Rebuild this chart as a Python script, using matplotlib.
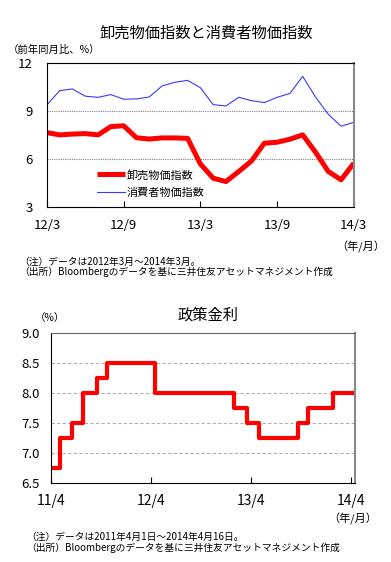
import numpy as np
import pandas as pd
import matplotlib
matplotlib.use('Agg')
import matplotlib.pyplot as plt

plt.rcParams['font.family'] = ['Noto Sans CJK JP', 'DejaVu Sans']

# 卸売物価指数 / 消費者物価指数 (2012/3 - 2014/3, 月次, 前年同月比 %)
wpi = [7.64, 7.50, 7.55, 7.58, 7.50, 8.02, 8.07, 7.32, 7.24, 7.31, 7.31, 7.28,
       5.68, 4.79, 4.58, 5.21, 5.87, 6.98, 7.04, 7.23, 7.50, 6.42, 5.21, 4.69, 5.73]
cpi = [9.38, 10.27, 10.37, 9.92, 9.85, 10.02, 9.73, 9.75, 9.87, 10.56, 10.79, 10.91,
       10.45, 9.39, 9.31, 9.85, 9.64, 9.52, 9.85, 10.09, 11.16, 9.87, 8.79, 8.04, 8.29]
top_ticks = [0, 6, 12, 18, 24]
top_labels = ['12/3', '12/9', '13/3', '13/9', '14/3']

# 政策金利 (変更日と水準)
rate_dates = ['2011-04-01', '2011-05-03', '2011-06-16', '2011-07-26', '2011-09-16',
              '2011-10-25', '2012-04-17', '2013-01-29', '2013-03-19', '2013-05-03',
              '2013-09-20', '2013-10-29', '2014-01-28', '2014-04-16']
rates = [6.75, 7.25, 7.50, 8.00, 8.25, 8.50, 8.00, 7.75, 7.50, 7.25, 7.50, 7.75, 8.00, 8.00]
bottom_ticks = ['2011-04-01', '2012-04-01', '2013-04-01', '2014-04-01']
bottom_labels = ['11/4', '12/4', '13/4', '14/4']

fig = plt.figure(figsize=(3.91, 5.62), dpi=100)

# ---- 上段 ----
ax1 = fig.add_axes([0.120, 0.632, 0.785, 0.256])
x = np.arange(len(wpi))
ax1.plot(x, wpi, color='#ff0000', lw=3.6, label='卸売物価指数', solid_capstyle='butt')
ax1.plot(x, cpi, color='#3a3aff', lw=0.8, label='消費者物価指数')
ax1.set_xlim(0, 24)
ax1.set_ylim(3, 12)
ax1.set_yticks([3, 6, 9, 12])
ax1.set_xticks(top_ticks)
ax1.set_xticklabels(top_labels)
for v in [6, 9]:
    ax1.axhline(v, color='#808080', lw=0.8, ls=(0, (1, 1)), zorder=0)
ax1.tick_params(axis='y', length=0, labelsize=9.5, pad=10)
ax1.tick_params(axis='x', direction='in', length=4, labelsize=9.5, pad=9)
ax1.spines['right'].set_color('#888888')
ax1.spines['right'].set_linewidth(1.5)
ax1.legend(loc='upper left', bbox_to_anchor=(0.13, 0.33), frameon=False,
           fontsize=8, handlelength=2.5, labelspacing=0.7, handletextpad=0.2)
fig.text(0.527, 0.941, '卸売物価指数と消費者物価指数', ha='center', va='center', fontsize=11)
fig.text(0.02, 0.911, '（前年同月比、%）', ha='left', va='center', fontsize=7.5)
fig.text(0.985, 0.561, '（年/月）', ha='right', va='center', fontsize=8)
fig.text(0.05, 0.534, '（注）データは2012年3月～2014年3月。', ha='left', va='center', fontsize=7)
fig.text(0.05, 0.517, '（出所）Bloombergのデータを基に三井住友アセットマネジメント作成',
         ha='left', va='center', fontsize=7)

# ---- 下段 ----
ax2 = fig.add_axes([0.130, 0.141, 0.777, 0.267])
d = pd.to_datetime(rate_dates)
ax2.step(d, rates, where='post', color='#ff0000', lw=3.0)
ax2.set_xlim(pd.Timestamp('2011-04-01'), pd.Timestamp('2014-04-16'))
ax2.set_ylim(6.5, 9.0)
ax2.set_yticks([6.5, 7.0, 7.5, 8.0, 8.5, 9.0])
ax2.yaxis.set_major_formatter(matplotlib.ticker.FormatStrFormatter('%.1f'))
ax2.set_xticks(pd.to_datetime(bottom_ticks))
ax2.set_xticklabels(bottom_labels)
for v in [7.0, 7.5, 8.0, 8.5]:
    ax2.axhline(v, color='#b0b0b0', lw=0.8, ls=(0, (3, 2)), zorder=0)
ax2.tick_params(axis='y', length=0, labelsize=9.5, pad=8)
ax2.tick_params(axis='x', direction='in', length=4, labelsize=10, pad=8)
ax2.spines['right'].set_color('#888888')
ax2.spines['right'].set_linewidth(1.5)
ax2.spines['top'].set_color('#666666')
fig.text(0.532, 0.439, '政策金利', ha='center', va='center', fontsize=11)
fig.text(0.09, 0.434, '（%）', ha='left', va='center', fontsize=7.5)
fig.text(0.965, 0.077, '（年/月）', ha='right', va='center', fontsize=8)
fig.text(0.068, 0.045, '（注）データは2011年4月1日～2014年4月16日。', ha='left', va='center', fontsize=7)
fig.text(0.068, 0.025, '（出所）Bloombergのデータを基に三井住友アセットマネジメント作成',
         ha='left', va='center', fontsize=7)

fig.savefig('out.png', dpi=100)
